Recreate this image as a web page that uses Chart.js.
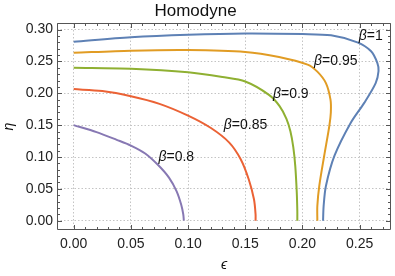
<!DOCTYPE html>
<html>

<head>
	<meta charset="utf-8">
	<title>Homodyne</title>
	<script src="https://cdn.jsdelivr.net/npm/chart.js@4.4.1/dist/chart.umd.min.js"></script>
	<style>
		body { margin: 0; background: #fff; }
		#chart { display: block; }
	</style>
</head>

<body>
	<canvas id="chart" width="395" height="276"></canvas>

	<script>
		// values, one curve per beta (eps -> x, eta -> y)
		const betas = ['1', '0.95', '0.9', '0.85', '0.8'];

		const eps100 = [0, 0.05, 0.10, 0.15, 0.20, 0.225, 0.248, 0.260, 0.2655, 0.2665, 0.264, 0.254, 0.242, 0.228, 0.2205, 0.2185, 0.218];
		const eta100 = [0.281, 0.288, 0.292, 0.294, 0.293, 0.291, 0.280, 0.266, 0.2475, 0.235, 0.216, 0.185, 0.153, 0.102, 0.0545, 0.023, 0];

		const eps095 = [0, 0.05, 0.10, 0.15, 0.1795, 0.2045, 0.213, 0.2205, 0.2245, 0.2248, 0.2235, 0.219, 0.2147, 0.213, 0.213];
		const eta095 = [0.2637, 0.267, 0.268, 0.265, 0.257, 0.245, 0.234, 0.216, 0.190, 0.170, 0.149, 0.102, 0.0545, 0.023, 0];

		const eps090 = [0, 0.05, 0.10, 0.13, 0.15, 0.1707, 0.180, 0.186, 0.1895, 0.192, 0.1937, 0.195, 0.1955, 0.1955];
		const eta090 = [0.240, 0.2385, 0.233, 0.2255, 0.2185, 0.1976, 0.180, 0.160, 0.140, 0.115, 0.086, 0.045, 0.015, 0];

		const eps085 = [0, 0.025, 0.05, 0.075, 0.10, 0.12, 0.136, 0.146, 0.153, 0.1576, 0.159, 0.159];
		const eta085 = [0.2066, 0.2035, 0.1955, 0.1835, 0.165, 0.1455, 0.1226, 0.0965, 0.065, 0.0336, 0.010, 0];

		const eps080 = [0, 0.02, 0.0376, 0.05, 0.0625, 0.074, 0.0833, 0.090, 0.094, 0.0958, 0.0963];
		const eta080 = [0.150, 0.139, 0.127, 0.118, 0.1055, 0.087, 0.0676, 0.046, 0.025, 0.010, 0];

		const xTicks = [0, 0.05, 0.10, 0.15, 0.20, 0.25];
		const yTicks = [0, 0.05, 0.10, 0.15, 0.20, 0.25, 0.30];

		// where the beta labels sit, in plot units
		const labelEps = [0.2597, 0.2291, 0.1898, 0.1502, 0.0897];
		const labelEta = [0.2904, 0.2506, 0.1992, 0.1505, 0.100];

		const colors = ['#5E81B5', '#E19C24', '#8FB032', '#EB6235', '#8778B3'];
		const FONT = '"Liberation Sans", Arial, "DejaVu Sans", sans-serif';

		function pts(xs, ys) {
			return xs.map((x, i) => ({ x: x, y: ys[i] }));
		}

		const series = [pts(eps100, eta100), pts(eps095, eta095), pts(eps090, eta090), pts(eps085, eta085), pts(eps080, eta080)];

		// frame on all four sides, ticks pointing inwards, curve labels
		const framePlugin = {
			id: 'frame',
			afterDatasetsDraw(chart) {
				const ctx = chart.ctx;
				const xs = chart.scales.x, ys = chart.scales.y;
				ctx.save();
				ctx.fillStyle = '#111';
				ctx.textBaseline = 'middle';
				for (let i = 0; i < betas.length; i++) {
					const cx = xs.getPixelForValue(labelEps[i]);
					const cy = ys.getPixelForValue(labelEta[i]);
					const a = 'β', b = '=' + betas[i];
					ctx.font = 'italic 14px ' + FONT;
					const wa = ctx.measureText(a).width;
					ctx.font = '14px ' + FONT;
					const wb = ctx.measureText(b).width;
					let x0 = cx - (wa + wb) / 2;
					ctx.font = 'italic 14px ' + FONT;
					ctx.fillText(a, x0, cy);
					ctx.font = '14px ' + FONT;
					ctx.fillText(b, x0 + wa, cy);
				}
				ctx.restore();
			},
			afterDraw(chart) {
				const ctx = chart.ctx;
				const a = chart.chartArea;
				const xs = chart.scales.x, ys = chart.scales.y;
				const L = Math.round(a.left) + 0.5, R = Math.round(a.right) - 0.5;
				const T = Math.round(a.top) + 0.5, B = Math.round(a.bottom) - 0.5;
				ctx.save();
				ctx.strokeStyle = '#555';
				ctx.lineWidth = 1;
				ctx.beginPath();
				ctx.rect(L, T, R - L, B - T);
				ctx.stroke();

				ctx.beginPath();
				for (let k = 0; k <= 27; k++) {
					const v = k / 100;
					const len = (k % 5 === 0) ? 4.5 : 2.5;
					const px = Math.round(xs.getPixelForValue(v)) + 0.5;
					ctx.moveTo(px, B); ctx.lineTo(px, B - len);
					ctx.moveTo(px, T); ctx.lineTo(px, T + len);
				}
				for (let k = 0; k <= 31; k++) {
					const v = k / 100;
					const len = (k % 5 === 0) ? 4.5 : 2.5;
					const py = Math.round(ys.getPixelForValue(v)) + 0.5;
					ctx.moveTo(L, py); ctx.lineTo(L + len, py);
					ctx.moveTo(R, py); ctx.lineTo(R - len, py);
				}
				ctx.stroke();
				ctx.restore();
			}
		};

		const gridOpts = { color: '#c4c4c4', lineWidth: 1, drawTicks: false };
		const borderOpts = { display: false, dash: [1.5, 2] };
		const tickFont = { family: FONT, size: 14 };

		new Chart(document.getElementById('chart'), {
			type: 'scatter',
			data: {
				datasets: series.map((d, i) => ({
					label: 'β=' + betas[i],
					data: d,
					showLine: true,
					borderColor: colors[i],
					borderWidth: 2,
					pointRadius: 0,
					tension: 0.3,
					fill: false
				}))
			},
			options: {
				responsive: false,
				animation: false,
				devicePixelRatio: 1,
				layout: { padding: { left: 0, right: 4, top: 0, bottom: 0 } },
				plugins: {
					legend: { display: false },
					tooltip: { enabled: false },
					title: {
						display: true,
						text: 'Homodyne',
						color: '#111',
						font: { family: FONT, size: 17, weight: 'normal' },
						padding: { top: 0.8, bottom: 1.8 }
					}
				},
				scales: {
					x: {
						type: 'linear',
						min: -0.0146,
						max: 0.2774,
						afterBuildTicks: s => { s.ticks = xTicks.map(v => ({ value: v })); },
						afterFit: s => { s.height = 46; },
						grid: gridOpts,
						border: borderOpts,
						ticks: {
							padding: 6,
							color: '#222',
							font: tickFont,
							maxRotation: 0,
							autoSkip: false,
							callback: v => v.toFixed(2)
						},
						title: {
							display: true,
							text: 'ϵ',
							color: '#111',
							font: { family: FONT, size: 14, style: 'italic' },
							padding: { top: 0, bottom: 2.6 }
						}
					},
					y: {
						type: 'linear',
						min: -0.0146,
						max: 0.3104,
						afterBuildTicks: s => { s.ticks = yTicks.map(v => ({ value: v })); },
						afterFit: s => { s.width = 57; },
						grid: gridOpts,
						border: borderOpts,
						ticks: {
							padding: 4,
							color: '#222',
							font: tickFont,
							autoSkip: false,
							callback: v => v.toFixed(2)
						},
						title: {
							display: true,
							text: 'η',
							color: '#111',
							font: { family: FONT, size: 14, style: 'italic' },
							padding: { top: 0.6, bottom: 0 }
						}
					}
				}
			},
			plugins: [framePlugin]
		});
	</script>
</body>

</html>
